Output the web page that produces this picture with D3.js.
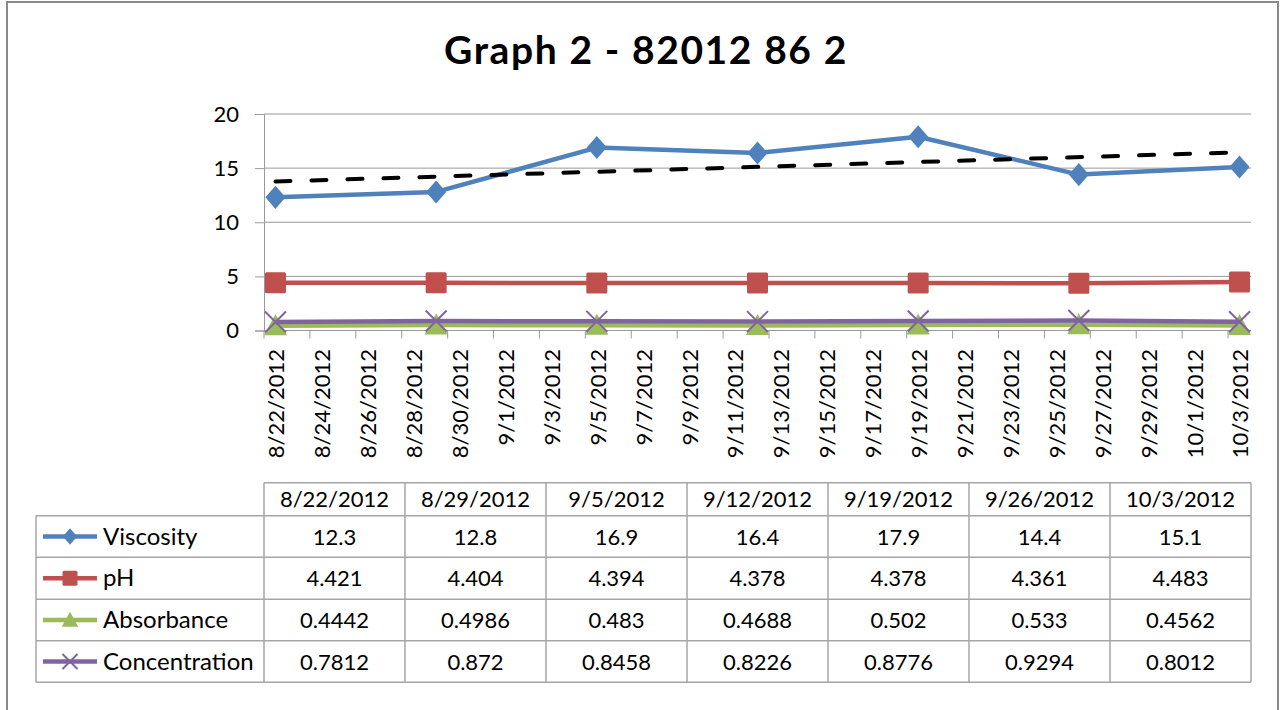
<!DOCTYPE html>
<html>
<head>
<meta charset="utf-8">
<script src="https://cdn.jsdelivr.net/npm/d3@7"></script>
<style>
  html, body { margin: 0; padding: 0; background: #fff; }
  svg { display: block; }
  text { font-family: Lato, "Open Sans", sans-serif; fill: #000; }
</style>
</head>
<body>
<script>
// ---- data ----
const title = "Graph 2 - 82012 86 2";
const dates = ["8/22/2012", "8/29/2012", "9/5/2012", "9/12/2012", "9/19/2012", "9/26/2012", "10/3/2012"];
const viscosity = [12.3, 12.8, 16.9, 16.4, 17.9, 14.4, 15.1];
const pH = [4.421, 4.404, 4.394, 4.378, 4.378, 4.361, 4.483];
const absorbance = [0.4442, 0.4986, 0.483, 0.4688, 0.502, 0.533, 0.4562];
const concentration = [0.7812, 0.872, 0.8458, 0.8226, 0.8776, 0.9294, 0.8012];
const seriesNames = ["Viscosity", "pH", "Absorbance", "Concentration"];
const yTicks = [0, 5, 10, 15, 20];
const axisStart = "8/22/2012";
const axisEnd = "10/4/2012";   // exclusive end of last day slot
const tickStepDays = 2;

// ---- setup ----
const W = 1281, H = 710;
const svg = d3.select("body").append("svg").attr("width", W).attr("height", H);
const parse = d3.utcParse("%m/%d/%Y");
const fmt = d => (d.getUTCMonth() + 1) + "/" + d.getUTCDate() + "/" + d.getUTCFullYear();
const DAY = 864e5;

const plot = { left: 264, right: 1251, top: 114, bottom: 330.5 };
const x = d3.scaleUtc().domain([parse(axisStart), parse(axisEnd)]).range([plot.left, plot.right]);
const y = d3.scaleLinear().domain([0, 20]).range([plot.bottom, plot.top]);
const xc = d => x(new Date(parse(d).getTime() + DAY / 2));

const colors = { Viscosity: "#4f81bd", pH: "#c0504d", Absorbance: "#9bbb59", Concentration: "#8064a2" };
const values = { Viscosity: viscosity, pH: pH, Absorbance: absorbance, Concentration: concentration };

// outer border
svg.append("rect").attr("x", 7).attr("y", 2).attr("width", 1271).attr("height", 760)
  .attr("fill", "#fff").attr("stroke", "#8a8a8a").attr("stroke-width", 2);

// title
svg.append("text").attr("x", 646).attr("y", 64).attr("text-anchor", "middle")
  .style("font-size", "39px").style("font-weight", "bold").style("letter-spacing", "1.6px").text(title);

// gridlines
svg.append("g").selectAll("line").data(yTicks).join("line")
  .attr("x1", plot.left).attr("x2", plot.right)
  .attr("y1", d => y(d)).attr("y2", d => y(d))
  .attr("stroke", "#9a9a9a").attr("stroke-width", 1);

// y axis
const yAxis = svg.append("g").attr("transform", `translate(${plot.left},0)`)
  .call(d3.axisLeft(y).tickValues(yTicks).tickSize(9).tickPadding(16).tickFormat(d3.format("d")));
yAxis.select(".domain").attr("stroke", "#9a9a9a");
yAxis.selectAll(".tick line").attr("stroke", "#9a9a9a");
yAxis.selectAll("text").style("font-size", "22px").style("font-family", "Lato").attr("fill", "#000");

// x axis ticks (slot boundaries every 2 days)
const tickDates = d3.utcDay.range(parse(axisStart), parse(axisEnd), tickStepDays);
const xAxisG = svg.append("g");
xAxisG.append("line").attr("x1", plot.left).attr("x2", plot.right)
  .attr("y1", plot.bottom).attr("y2", plot.bottom).attr("stroke", "#9a9a9a");
xAxisG.selectAll("line.tk").data(tickDates).join("line").attr("class", "tk")
  .attr("x1", d => x(d)).attr("x2", d => x(d))
  .attr("y1", plot.bottom).attr("y2", plot.bottom + 8).attr("stroke", "#9a9a9a");
xAxisG.selectAll("text").data(tickDates).join("text")
  .attr("transform", d => `translate(${x(new Date(d.getTime() + DAY / 2)) + 1},349) rotate(-90)`)
  .attr("text-anchor", "end").attr("dy", "0.36em")
  .style("font-size", "22px").text(d => fmt(d));

// series lines + markers
const line = d3.line().x((d, i) => xc(dates[i])).y(d => y(d));

function marker(g, name, cx, cy, s) {
  const c = colors[name];
  if (name === "Viscosity") {
    g.append("path").attr("d", `M${cx},${cy - s * 0.55}L${cx + s * 0.48},${cy}L${cx},${cy + s * 0.55}L${cx - s * 0.48},${cy}Z`).attr("fill", c);
  } else if (name === "pH") {
    g.append("rect").attr("x", cx - s / 2).attr("y", cy - s / 2).attr("width", s).attr("height", s).attr("rx", 1.5).attr("fill", c);
  } else if (name === "Absorbance") {
    g.append("path").attr("d", `M${cx},${cy - s * 0.55}L${cx + s * 0.55},${cy + s * 0.45}L${cx - s * 0.55},${cy + s * 0.45}Z`).attr("fill", c);
  } else {
    const h = s / 2;
    g.append("path").attr("d", `M${cx - h},${cy - h}L${cx + h},${cy + h}M${cx - h},${cy + h}L${cx + h},${cy - h}`)
      .attr("stroke", c).attr("stroke-width", 2).attr("fill", "none");
  }
}

seriesNames.forEach(name => {
  const g = svg.append("g");
  g.append("path").datum(values[name]).attr("d", line).attr("fill", "none")
    .attr("stroke", colors[name]).attr("stroke-width", 4.5).attr("stroke-linejoin", "round");
  values[name].forEach((v, i) => marker(g, name, xc(dates[i]), y(v), 21));
});

// linear trendline of viscosity (least squares over dates)
const tx = dates.map(d => (parse(d) - parse(dates[0])) / DAY);
const reg = d3.mean(tx), mY = d3.mean(viscosity);
const slope = d3.sum(tx, (t, i) => (t - reg) * (viscosity[i] - mY)) / d3.sum(tx, t => (t - reg) ** 2);
const icpt = mY - slope * reg;
const tEnd = tx[tx.length - 1];
svg.append("line")
  .attr("x1", xc(dates[0])).attr("y1", y(icpt))
  .attr("x2", xc(dates[dates.length - 1])).attr("y2", y(icpt + slope * tEnd))
  .attr("stroke", "#000").attr("stroke-width", 4).attr("stroke-dasharray", "15,21").attr("stroke-linecap", "round");

// ---- data table ----
const tbl = { left: 36, labelRight: 264, right: 1251 };
const rowY = [482.7, 515.7, 557.3, 599.3, 640.7, 682.3];
const colX = d3.range(dates.length + 1).map(i => tbl.labelRight + i * (tbl.right - tbl.labelRight) / dates.length);
const tg = svg.append("g");
const gridC = "#a6a6a6";
// horizontal lines
rowY.forEach((yy, i) => {
  tg.append("line").attr("x1", i === 0 ? tbl.labelRight : tbl.left).attr("x2", tbl.right)
    .attr("y1", yy).attr("y2", yy).attr("stroke", gridC).attr("stroke-width", 1.5);
});
// vertical lines
tg.append("line").attr("x1", tbl.left).attr("x2", tbl.left).attr("y1", rowY[1]).attr("y2", rowY[5]).attr("stroke", gridC).attr("stroke-width", 1.5);
colX.forEach(xx => {
  tg.append("line").attr("x1", xx).attr("x2", xx).attr("y1", rowY[0]).attr("y2", rowY[5]).attr("stroke", gridC).attr("stroke-width", 1.5);
});
// header
dates.forEach((d, i) => {
  tg.append("text").attr("x", (colX[i] + colX[i + 1]) / 2).attr("y", (rowY[0] + rowY[1]) / 2 + 8)
    .attr("text-anchor", "middle").style("font-size", "22px").text(d);
});
// rows
seriesNames.forEach((name, r) => {
  const cy = (rowY[r + 1] + rowY[r + 2]) / 2;
  tg.append("line").attr("x1", 43).attr("x2", 97).attr("y1", cy).attr("y2", cy)
    .attr("stroke", colors[name]).attr("stroke-width", 4.5);
  marker(tg, name, 70, cy, 15);
  tg.append("text").attr("x", 103).attr("y", cy + 8).style("font-size", "24px").text(name);
  values[name].forEach((v, i) => {
    tg.append("text").attr("x", (colX[i] + colX[i + 1]) / 2).attr("y", cy + 8)
      .attr("text-anchor", "middle").style("font-size", "22px").text(String(v));
  });
});
</script>
</body>
</html>
